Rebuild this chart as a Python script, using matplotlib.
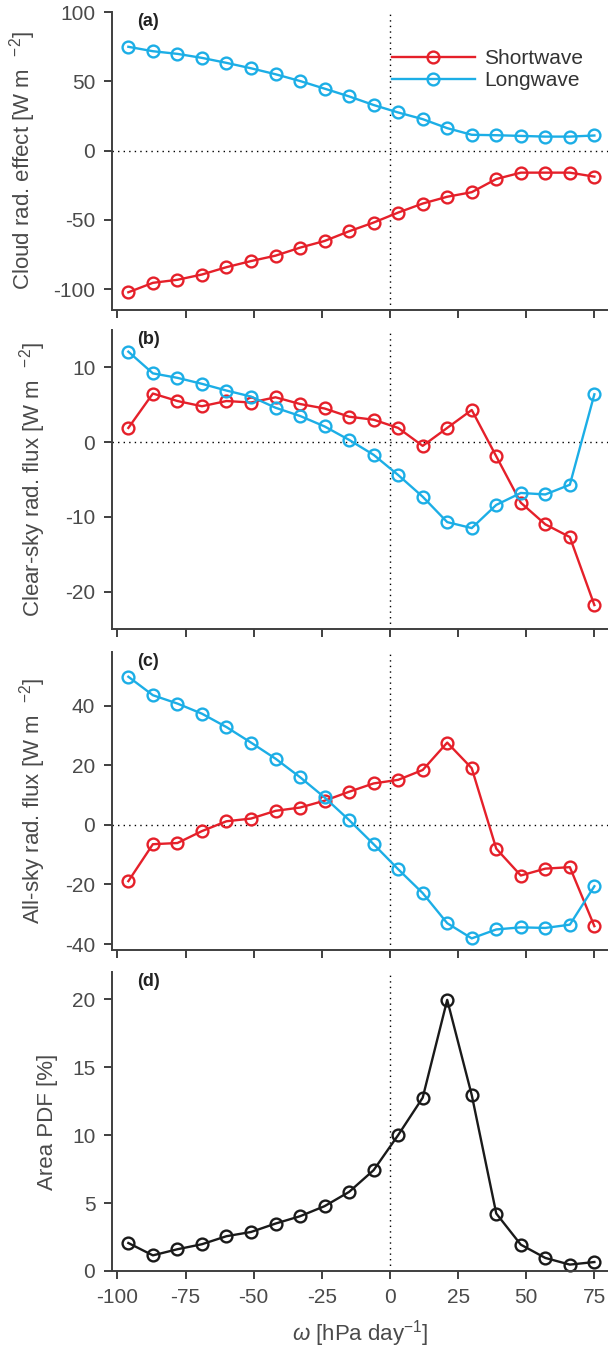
import matplotlib
matplotlib.use("Agg")
import matplotlib.pyplot as plt

plt.rcParams['font.family'] = ['Liberation Sans', 'DejaVu Sans']
plt.rcParams['mathtext.fontset'] = 'custom'
plt.rcParams['mathtext.rm'] = 'Liberation Sans'
plt.rcParams['mathtext.it'] = 'Liberation Sans:italic'
plt.rcParams['axes.unicode_minus'] = False

# omega bins [hPa/day]
omega = [-96, -87, -78, -69, -60, -51, -42, -33, -24, -15,
         -6, 3, 12, 21, 30, 39, 48, 57, 66, 75]

# (a) cloud radiative effect
cre_sw = [-102.2, -95.4, -93.2, -89.4, -84.1, -79.7, -75.8, -70.0, -65.2, -58.2,
          -51.9, -44.7, -38.2, -33.3, -30.0, -20.5, -15.9, -15.9, -15.9, -18.8]
cre_lw = [74.9, 71.7, 69.8, 66.9, 63.3, 59.4, 55.1, 50.2, 44.7, 39.1,
          32.9, 27.5, 22.7, 16.2, 11.4, 11.1, 10.6, 10.1, 10.1, 10.9]

# (b) clear-sky radiative flux
clr_sw = [1.9, 6.5, 5.5, 4.8, 5.5, 5.3, 6.0, 5.1, 4.5, 3.4,
          3.0, 1.9, -0.5, 1.9, 4.3, -1.9, -8.1, -11.0, -12.7, -21.8]
clr_lw = [12.1, 9.2, 8.6, 7.8, 6.9, 6.1, 4.6, 3.5, 2.1, 0.3,
          -1.7, -4.4, -7.3, -10.7, -11.5, -8.4, -6.8, -7.0, -5.7, 6.4]

# (c) all-sky radiative flux
all_sw = [-18.9, -6.5, -6.1, -2.1, 1.2, 2.1, 4.7, 5.8, 8.1, 11.1,
          13.9, 15.1, 18.4, 27.6, 19.0, -8.0, -17.0, -14.7, -14.2, -34.0]
all_lw = [49.7, 43.5, 40.7, 37.3, 32.8, 27.6, 22.2, 16.0, 9.2, 1.6,
          -6.5, -14.9, -22.9, -33.0, -38.1, -35.1, -34.4, -34.6, -33.5, -20.6]

# (d) area PDF [%]
pdf = [2.06, 1.15, 1.6, 1.97, 2.56, 2.87, 3.49, 4.03, 4.77, 5.82,
       7.42, 10.0, 12.75, 19.95, 12.95, 4.23, 1.94, 0.96, 0.47, 0.66]

red = '#e5202a'
blue = '#1caee6'
axc = '#3f3f3f'
txtc = '#4a4a4a'
fs = 15

fig = plt.figure(figsize=(6.08, 13.57), dpi=100)

W, H = 608.0, 1357.0
left = 112.0
# top / bottom of each panel in pixels
boxes = [(12, 310), (330, 629), (652, 950), (972, 1271)]
ylims = [(-115, 100), (-25, 15), (-42, 58), (0, 22)]
yticks = [[-100, -50, 0, 50, 100], [-20, -10, 0, 10], [-40, -20, 0, 20, 40], [0, 5, 10, 15, 20]]
ylabels = ['Cloud rad. effect [W m  $^{-2}$]',
           'Clear-sky rad. flux [W m  $^{-2}$]',
           'All-sky rad. flux [W m  $^{-2}$]',
           'Area PDF [%]']
labx = [-0.150, -0.130, -0.130, -0.108]
tags = ['(a)', '(b)', '(c)', '(d)']

axes = []
for i, (t, b) in enumerate(boxes):
    ax = fig.add_axes([left / W, 1 - b / H, (W - left) / W, (b - t) / H])
    axes.append(ax)
    ax.set_xlim(-102, 80)
    ax.set_ylim(*ylims[i])
    ax.set_yticks(yticks[i])
    ax.set_xticks([-100, -75, -50, -25, 0, 25, 50, 75])
    for s in ['top', 'right']:
        ax.spines[s].set_visible(False)
    for s in ['left', 'bottom']:
        ax.spines[s].set_color(axc)
        ax.spines[s].set_linewidth(1.4)
    ax.tick_params(direction='out', length=6, width=1.4, color=axc,
                   labelcolor=txtc, labelsize=fs, pad=6)
    ax.set_ylabel(ylabels[i], fontsize=fs + 1, color=txtc)
    ax.yaxis.set_label_coords(labx[i], 0.5)
    ax.axvline(0, color='k', lw=1, ls=(0, (1, 3)), zorder=1)
    if i < 3:
        ax.axhline(0, color='k', lw=1, ls=(0, (1, 3)), zorder=1)
        ax.tick_params(axis='x', labelbottom=False)
    ax.text(0.051, 0.967, tags[i], transform=ax.transAxes, fontsize=13,
            fontweight='bold', color='#222222', ha='left', va='center')

mk = dict(marker='o', markersize=8.5, markerfacecolor='none', markeredgewidth=1.7, lw=1.7)

axes[0].plot(omega, cre_sw, color=red, label='Shortwave', **mk)
axes[0].plot(omega, cre_lw, color=blue, label='Longwave', **mk)
axes[1].plot(omega, clr_sw, color=red, **mk)
axes[1].plot(omega, clr_lw, color=blue, **mk)
axes[2].plot(omega, all_sw, color=red, **mk)
axes[2].plot(omega, all_lw, color=blue, **mk)
axes[3].plot(omega, pdf, color='#1a1a1a', clip_on=False, **mk)

leg = axes[0].legend(loc='center left', bbox_to_anchor=(0.5636, 0.806), frameon=False,
                     fontsize=fs, handlelength=4.0, handletextpad=0.45,
                     labelspacing=0.15, borderpad=0, borderaxespad=0)
for t in leg.get_texts():
    t.set_color('#333333')

axes[3].set_xlabel(r'$\omega$ [hPa day$^{-1}$]', fontsize=fs + 1, color=txtc, labelpad=8)

fig.savefig('out.png', dpi=100)
